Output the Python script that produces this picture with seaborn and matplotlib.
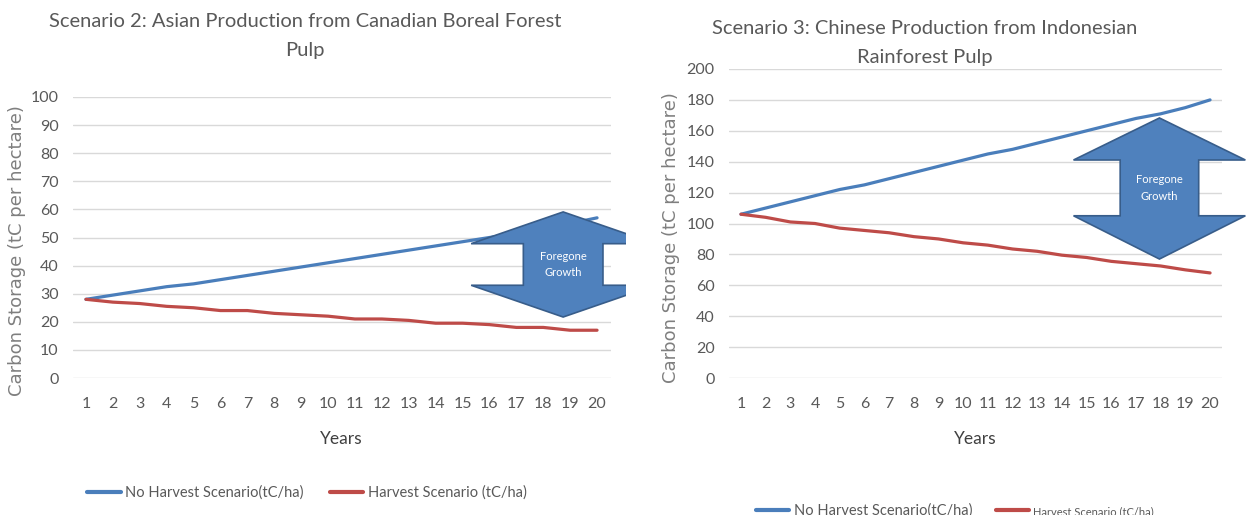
import pandas as pd
import matplotlib.pyplot as plt
from matplotlib.patches import Polygon, Rectangle
from matplotlib.lines import Line2D
import seaborn as sns

# data
years = list(range(1, 21))
s2_no_harvest = [28, 29.5, 31, 32.5, 33.5, 35, 36.5, 38, 39.5, 41, 42.5, 44, 45.5, 47, 48.5, 50, 51.5, 53, 55, 57]
s2_harvest = [28, 27, 26.5, 25.5, 25, 24, 24, 23, 22.5, 22, 21, 21, 20.5, 19.5, 19.5, 19, 18, 18, 17, 17]
s3_no_harvest = [106, 110, 114, 118, 122, 125, 129, 133, 137, 141, 145, 148, 152, 156, 160, 164, 168, 171, 175, 180]
s3_harvest = [106, 104, 101, 100, 97, 95.5, 94, 91.5, 90, 87.5, 86, 83.5, 82, 79.5, 78, 75.5, 74, 72.5, 70, 68]

series_names = ['No Harvest Scenario(tC/ha)', 'Harvest Scenario (tC/ha)']
line_colors = ['#4a7ebb', '#be4b48']
titles = ['Scenario 2: Asian Production from Canadian Boreal Forest\nPulp',
          'Scenario 3: Chinese Production from Indonesian\nRainforest Pulp']
y_ticks = [list(range(0, 101, 10)), list(range(0, 201, 20))]

sns.set_style('white')
plt.rcParams['font.family'] = ['Lato', 'DejaVu Sans']

W, H = 1247, 515
fig = plt.figure(figsize=(W / 100, H / 100), dpi=100)


def px_axes(x0, y_top, x1, y_bot):
    return fig.add_axes([x0 / W, 1 - y_bot / H, (x1 - x0) / W, (y_bot - y_top) / H])


def make_df(a, b):
    return pd.DataFrame({
        'Years': years * 2,
        'value': a + b,
        'series': [series_names[0]] * len(years) + [series_names[1]] * len(years),
    })


def block_arrow(ax, xc, head_half, shaft_half, y_top, y_head_top, y_head_bot, y_bot, clip=None):
    pts = [(xc, y_top), (xc + head_half, y_head_top), (xc + shaft_half, y_head_top),
           (xc + shaft_half, y_head_bot), (xc + head_half, y_head_bot), (xc, y_bot),
           (xc - head_half, y_head_bot), (xc - shaft_half, y_head_bot),
           (xc - shaft_half, y_head_top), (xc - head_half, y_head_top)]
    p = Polygon(pts, closed=True, facecolor='#4f81bd', edgecolor='#385d8a',
                linewidth=1.2, clip_on=clip is not None, zorder=5)
    ax.add_patch(p)
    if clip is not None:
        p.set_clip_path(clip)
    ax.text(xc, (y_head_top + y_head_bot) / 2, 'Foregone\nGrowth', color='white',
            ha='center', va='center', fontsize=8, zorder=6, linespacing=1.6)


ax1 = px_axes(72.5, 97, 610.5, 378)
ax2 = px_axes(728.6, 69, 1222.4, 378)
dfs = [make_df(s2_no_harvest, s2_harvest), make_df(s3_no_harvest, s3_harvest)]

for ax, df, yt in zip([ax1, ax2], dfs, y_ticks):
    sns.lineplot(data=df, x='Years', y='value', hue='series', palette=line_colors,
                 linewidth=2.3, ax=ax, legend=False, zorder=3)
    ax.set_xlim(0.5, 20.5)
    ax.set_ylim(yt[0], yt[-1])
    ax.set_yticks(yt)
    ax.set_xticks(years)
    ax.grid(axis='y', color='#d9d9d9', linewidth=1)
    ax.grid(axis='x', visible=False)
    for s in ax.spines.values():
        s.set_visible(False)
    ax.tick_params(axis='both', length=0, labelsize=11.5, labelcolor='#595959')
    ax.tick_params(axis='x', pad=14)
    ax.tick_params(axis='y', pad=10)
    ax.set_xlabel('Years', fontsize=12.5, color='#404040', labelpad=14)
    ax.set_ylabel('Carbon Storage (tC per hectare)', fontsize=13, color='#7f7f7f',
                  family='DejaVu Sans')

ax1.yaxis.set_label_coords(-0.086, 0.455)
ax2.yaxis.set_label_coords(-0.098, 0.456)

# titles
fig.text(305 / W, 1 - 36 / H, titles[0], ha='center', va='center', fontsize=14.5,
         color='#595959', linespacing=1.8)
fig.text(925 / W, 1 - 43 / H, titles[1], ha='center', va='center', fontsize=14.5,
         color='#595959', linespacing=1.8)

# arrows
clip_rect = Rectangle((0, 0), 626 / W, 1, transform=fig.transFigure)
block_arrow(ax1, 18.74, 3.42, 1.48, 59.1, 47.8, 33.0, 21.7, clip=clip_rect)
block_arrow(ax2, 17.95, 3.48, 1.59, 168.3, 141.1, 105.0, 77.0)

# legends
handles = [Line2D([], [], color=c, linewidth=3) for c in line_colors]
fig.legend(handles, series_names, loc='center', bbox_to_anchor=(307 / W, 1 - 493 / H),
           ncol=2, frameon=False, fontsize=10.5, handlelength=2.3, handletextpad=0.3,
           columnspacing=1.8, labelcolor='#595959')
leg2 = fig.legend(handles, series_names, loc='center', bbox_to_anchor=(955 / W, 1 - 511 / H),
                  ncol=2, frameon=False, fontsize=10.5, handlelength=2.3, handletextpad=0.3,
                  columnspacing=1.6, labelcolor='#595959')
leg2.get_texts()[1].set_fontsize(8)

plt.savefig('out.png', dpi=100)
